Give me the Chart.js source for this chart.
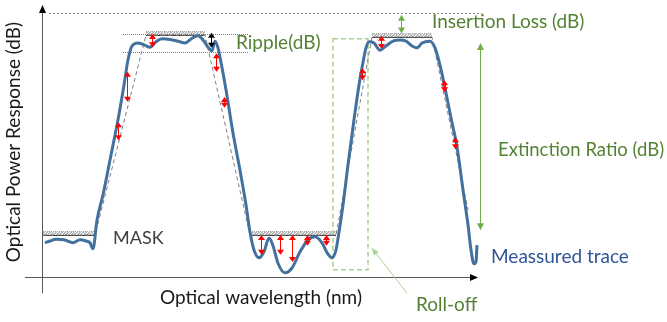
<!DOCTYPE html>
<html>
<head>
<meta charset="utf-8">
<script src="https://cdn.jsdelivr.net/npm/chart.js@4.4.0/dist/chart.umd.min.js"></script>
<style>
  html, body { margin: 0; padding: 0; background: #fff; }
</style>
</head>
<body>
<canvas id="chart" width="667" height="322"></canvas>
<script>
// measured trace: wavelength offset (a.u.) vs optical power (dB)
const traceX = [3, 8, 14, 22, 31, 38, 44, 48, 51, 55, 61, 68, 76, 82, 86, 90, 96, 102, 108, 114, 120, 128, 136, 143, 150, 156, 162, 166, 170, 173, 176, 179, 184, 191, 198, 204, 208, 212, 217, 222, 227, 231, 236, 243, 250, 258, 266, 273, 280, 286, 290, 294, 297, 301, 306, 312, 317, 321, 324, 327, 332, 338, 344, 351, 358, 364, 370, 375, 380, 388, 393, 398, 403, 409, 415, 421, 426, 429, 432, 434, 435];
const traceY = [-38.3, -38.0, -37.7, -37.8, -38.3, -37.8, -38.0, -38.3, -39.3, -34.5, -30.3, -24.5, -17.8, -12.0, -7.8, -5.5, -5.0, -5.3, -5.7, -4.8, -4.3, -4.4, -4.7, -5.0, -4.2, -3.8, -4.7, -5.7, -6.3, -4.7, -5.8, -8.2, -12.8, -20.0, -26.2, -32.0, -36.5, -39.5, -40.8, -39.8, -37.5, -38.8, -41.7, -43.3, -42.5, -39.8, -37.8, -37.3, -38.3, -40.2, -40.8, -39.5, -36.5, -32.0, -25.3, -17.8, -12.0, -8.2, -5.8, -4.8, -5.0, -6.2, -5.5, -4.7, -4.5, -4.7, -5.5, -5.8, -5.0, -4.7, -5.8, -8.7, -12.5, -17.5, -22.3, -29.5, -35.3, -39.5, -41.8, -41.5, -38.7];

// mask outline
const maskX = [1, 53, 104, 163, 208, 294, 330, 390, 426];
const maskY = [-37, -37, -3.7, -3.7, -37, -37, -4.0, -4.0, -32.8];

// hatched mask limits: [x start, x end, level dB]
const hatchBands = [[1, 53, -37], [104, 163, -3.7], [210, 294, -37], [330, 390, -4.0]];

// ripple limits (dB) and the reference level
const rippleLevels = [-3.5, -6.5];
const rippleRange = [81, 206];
const refLevel = 0;

// deviation arrows: [x, top dB, bottom dB]
const redArrows = [
  [110, -3.5, -5.7], [85, -9.8, -14.8], [76, -18.2, -21.2], [174, -6.7, -9.8], [182, -14.0, -15.8],
  [339, -3.8, -6.0], [320, -9.2, -11.2], [402, -11.2, -13.2], [413, -20.7, -22.7],
  [219, -37, -40.3], [238, -37, -40.3], [250, -37, -41.5], [265, -37, -38.8], [284, -37, -38.8]
];
const rippleArrow = [169, -3.3, -5.8];
const insertionArrow = [359, -0.3, -3.4];
const extinctionArrow = [438, -5.0, -36.2];
const rollOffBox = [291, 326, -4.3, -42.8];
const rollOffPointer = [[365, -46.7], [330, -39.2]];

// labels: [text, x, dB, align, colour, size]
const labels = [
  ["Ripple(dB)", 194, -5.0, "left", "#548235", 19],
  ["Insertion Loss (dB)", 390, -1.5, "left", "#548235", 19],
  ["Extinction Ratio (dB)", 456, -22.8, "left", "#548235", 18.5],
  ["Meassured trace", 449, -40.7, "left", "#2f5597", 19],
  ["MASK", 71, -37.5, "left", "#404040", 18],
  ["Roll-off", 374, -48.7, "left", "#548235", 19],
  ["Optical wavelength (nm)", 219, -47.5, "center", "#1a1a1a", 19]
];
const yTitle = "Optical Power Response (dB)";

const FONT = "Lato, 'Open Sans', sans-serif";

function head(ctx, x, y, ang, len, w) {
  ctx.save();
  ctx.translate(x, y);
  ctx.rotate(ang);
  ctx.beginPath();
  ctx.moveTo(0, 0);
  ctx.lineTo(-len, -w / 2);
  ctx.lineTo(-len, w / 2);
  ctx.closePath();
  ctx.fill();
  ctx.restore();
}

function vArrow(ctx, px, p1, p2, color, len, w, lw) {
  ctx.strokeStyle = color;
  ctx.fillStyle = color;
  ctx.lineWidth = lw;
  ctx.beginPath();
  ctx.moveTo(px, p1 + len - 1);
  ctx.lineTo(px, p2 - len + 1);
  ctx.stroke();
  head(ctx, px, p1, -Math.PI / 2, len, w);
  head(ctx, px, p2, Math.PI / 2, len, w);
}

const diagram = {
  id: "diagram",
  beforeDatasetsDraw(chart) {
    const ctx = chart.ctx;
    const xs = chart.scales.x, ys = chart.scales.y;
    ctx.save();
    // reference level
    ctx.strokeStyle = "#8c8c8c";
    ctx.lineWidth = 1;
    ctx.setLineDash([2, 2]);
    ctx.beginPath();
    ctx.moveTo(xs.getPixelForValue(7), ys.getPixelForValue(refLevel) + 0.5);
    ctx.lineTo(xs.getPixelForValue(440), ys.getPixelForValue(refLevel) + 0.5);
    ctx.stroke();
    // ripple limits
    ctx.strokeStyle = "#7f7f7f";
    ctx.setLineDash([1, 1]);
    rippleLevels.forEach(v => {
      const py = Math.round(ys.getPixelForValue(v)) + 0.5;
      ctx.beginPath();
      ctx.moveTo(xs.getPixelForValue(rippleRange[0]), py);
      ctx.lineTo(xs.getPixelForValue(rippleRange[1]), py);
      ctx.stroke();
    });
    ctx.setLineDash([]);
    // hatched mask bands
    hatchBands.forEach(([a, b, v]) => {
      const x1 = xs.getPixelForValue(a), x2 = xs.getPixelForValue(b);
      const py = Math.round(ys.getPixelForValue(v)) + 0.5;
      ctx.save();
      ctx.beginPath();
      ctx.rect(x1, py - 5, x2 - x1, 6);
      ctx.clip();
      ctx.strokeStyle = "#6e6e6e";
      ctx.lineWidth = 1;
      for (let x = x1 - 5; x < x2 + 5; x += 3) {
        ctx.beginPath();
        ctx.moveTo(x, py);
        ctx.lineTo(x + 4, py - 4);
        ctx.stroke();
      }
      ctx.restore();
      ctx.strokeStyle = "#404040";
      ctx.beginPath();
      ctx.moveTo(x1, py);
      ctx.lineTo(x2, py);
      ctx.stroke();
      ctx.strokeStyle = "#a6a6a6";
      ctx.setLineDash([1, 1]);
      ctx.beginPath();
      ctx.moveTo(x1, py - 4);
      ctx.lineTo(x2, py - 4);
      ctx.stroke();
      ctx.setLineDash([]);
    });
    // roll-off box
    const [ra, rb, rt, rbm] = rollOffBox;
    ctx.strokeStyle = "#a9d18e";
    ctx.lineWidth = 1.5;
    ctx.setLineDash([5, 3]);
    ctx.strokeRect(xs.getPixelForValue(ra), ys.getPixelForValue(rt),
      xs.getPixelForValue(rb) - xs.getPixelForValue(ra), ys.getPixelForValue(rbm) - ys.getPixelForValue(rt));
    ctx.setLineDash([]);
    ctx.restore();
  },
  afterDatasetsDraw(chart) {
    const ctx = chart.ctx;
    const xs = chart.scales.x, ys = chart.scales.y;
    ctx.save();
    // axes with arrowheads
    const ox = Math.round(xs.getPixelForValue(0)) + 0.5;
    const oy = Math.round(ys.getPixelForValue(-44)) + 0.5;
    ctx.strokeStyle = "#595959";
    ctx.fillStyle = "#000";
    ctx.lineWidth = 1;
    ctx.beginPath();
    ctx.moveTo(ox, ys.getPixelForValue(-46.7));
    ctx.lineTo(ox, ys.getPixelForValue(0.5));
    ctx.moveTo(xs.getPixelForValue(-17), oy);
    ctx.lineTo(xs.getPixelForValue(430), oy);
    ctx.stroke();
    head(ctx, ox, ys.getPixelForValue(1.35), -Math.PI / 2, 8, 7);
    head(ctx, xs.getPixelForValue(436), oy, 0, 8, 7);

    // deviation arrows
    redArrows.forEach(([x, a, b]) => {
      vArrow(ctx, Math.round(xs.getPixelForValue(x)) + 0.5, ys.getPixelForValue(a), ys.getPixelForValue(b), "#ff0000", 5, 7, 1);
    });
    vArrow(ctx, Math.round(xs.getPixelForValue(rippleArrow[0])) + 0.5, ys.getPixelForValue(rippleArrow[1]), ys.getPixelForValue(rippleArrow[2]), "#000", 5, 7, 1);
    vArrow(ctx, Math.round(xs.getPixelForValue(insertionArrow[0])) + 0.5, ys.getPixelForValue(insertionArrow[1]), ys.getPixelForValue(insertionArrow[2]), "#70ad47", 6, 7, 1);
    vArrow(ctx, Math.round(xs.getPixelForValue(extinctionArrow[0])) + 0.5, ys.getPixelForValue(extinctionArrow[1]), ys.getPixelForValue(extinctionArrow[2]), "#70ad47", 7, 7, 1);

    // roll-off pointer
    const [p0, p1] = rollOffPointer;
    const ax = xs.getPixelForValue(p0[0]), ay = ys.getPixelForValue(p0[1]);
    const bx = xs.getPixelForValue(p1[0]), by = ys.getPixelForValue(p1[1]);
    ctx.strokeStyle = "#a9d18e";
    ctx.fillStyle = "#a9d18e";
    ctx.beginPath();
    ctx.moveTo(ax, ay);
    ctx.lineTo(bx, by);
    ctx.stroke();
    head(ctx, bx, by, Math.atan2(by - ay, bx - ax), 7, 6);

    // labels
    ctx.textBaseline = "middle";
    labels.forEach(([t, x, v, al, c, s]) => {
      ctx.font = s + "px " + FONT;
      ctx.fillStyle = c;
      ctx.textAlign = al;
      ctx.fillText(t, xs.getPixelForValue(x), ys.getPixelForValue(v));
    });
    ctx.save();
    ctx.font = "19px " + FONT;
    ctx.translate(xs.getPixelForValue(-28), ys.getPixelForValue(-21.5));
    ctx.rotate(-Math.PI / 2);
    ctx.textAlign = "center";
    ctx.fillStyle = "#1a1a1a";
    ctx.fillText(yTitle, 0, 0);
    ctx.restore();
    ctx.restore();
  }
};

new Chart(document.getElementById("chart"), {
  type: "line",
  data: {
    datasets: [
      {
        label: "Meassured trace",
        data: traceX.map((x, i) => ({ x, y: traceY[i] })),
        borderColor: "#41719c",
        borderWidth: 3,
        pointRadius: 0,
        cubicInterpolationMode: "monotone",
        clip: false,
        order: 0
      },
      {
        label: "Mask",
        data: maskX.map((x, i) => ({ x, y: maskY[i] })),
        borderColor: "#7f7f7f",
        borderWidth: 1,
        borderDash: [4, 3],
        pointRadius: 0,
        tension: 0,
        clip: false,
        order: 1
      }
    ]
  },
  options: {
    responsive: false,
    animation: false,
    devicePixelRatio: 1,
    layout: { padding: { left: 42, right: 188, top: 13, bottom: 45 } },
    scales: {
      x: { type: "linear", min: 0, max: 437, display: false },
      y: { type: "linear", min: -44, max: 0, display: false }
    },
    plugins: { legend: { display: false }, tooltip: { enabled: false } }
  },
  plugins: [diagram]
});
</script>
</body>
</html>
